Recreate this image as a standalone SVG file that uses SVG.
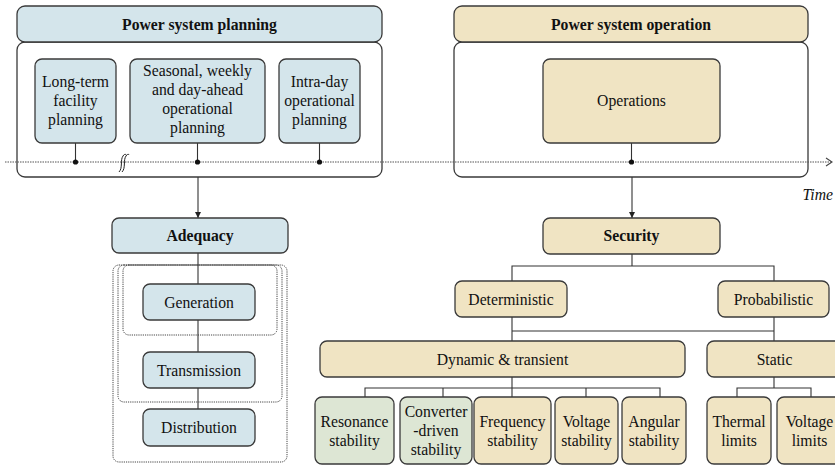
<svg xmlns="http://www.w3.org/2000/svg" width="835" height="466" viewBox="0 0 835 466" font-family="Liberation Serif, Times New Roman, serif">
<style>
text{font-family:Liberation Serif, serif;font-size:15.7px;fill:#111;text-anchor:middle}
.b{font-weight:bold}
.box{stroke:#3a3a3a;stroke-width:1.3}
.blue{fill:#d4e5eb}
.tan{fill:#f0e4c3}
.green{fill:#dde6d4}
.white{fill:#fff}
.ln{stroke:#333;stroke-width:1.1;fill:none}
.dash{fill:none;stroke:#444;stroke-width:1;stroke-dasharray:1.2 1}
</style>
<defs>
<marker id="ah" viewBox="0 0 8 8" refX="8" refY="4" markerWidth="6" markerHeight="6" orient="auto" markerUnits="userSpaceOnUse">
<path d="M0,0 L8,4 L0,8 z" fill="#222"/>
</marker>
</defs>
<rect width="835" height="466" fill="#fff"/>

<g id="planning">
<rect class="box white" x="17" y="42" width="365" height="135" rx="8"/>
<rect class="box blue" x="17" y="6" width="365" height="36" rx="8"/>
<text class="b" x="199.5" y="29.5" font-family="Liberation Serif">Power system planning</text>
</g>
<g id="operation">
<rect class="box white" x="454" y="42" width="354" height="135" rx="8"/>
<rect class="box tan" x="454" y="6" width="354" height="36" rx="8"/>
<text class="b" x="631" y="29.5" font-family="Liberation Serif">Power system operation</text>
</g>

<g id="dashed-groups">
<rect class="dash" x="113" y="265" width="174" height="197" rx="6"/>
<rect class="dash" x="118" y="265" width="164" height="137" rx="6"/>
<rect class="dash" x="123" y="265" width="154" height="70" rx="6"/>
</g>

<g id="connectors">
<line class="ln" x1="5" y1="162" x2="831" y2="162" style="stroke:#555;stroke-dasharray:1.5 1"/>
<path class="ln" d="M826,158 L832,162 L826,166" style="stroke:#444"/>
<path class="ln" d="M119,172 C123,168 120,160 123,156 C124,154 126,154 126,155 M122,172 C126,168 123,160 126,156 C127,154 129,154 129,155" style="stroke:#222;stroke-width:1"/>
<line class="ln" x1="75.5" y1="143" x2="75.5" y2="162"/>
<line class="ln" x1="197.5" y1="143" x2="197.5" y2="162"/>
<line class="ln" x1="319.5" y1="143" x2="319.5" y2="162"/>
<line class="ln" x1="631.5" y1="143" x2="631.5" y2="162"/>
<circle cx="75.5" cy="162" r="2.6" fill="#111"/>
<circle cx="197.5" cy="162" r="2.6" fill="#111"/>
<circle cx="319.5" cy="162" r="2.6" fill="#111"/>
<circle cx="631.5" cy="162" r="2.6" fill="#111"/>
<line class="ln" x1="198" y1="177" x2="198" y2="218" marker-end="url(#ah)"/>
<line class="ln" x1="632" y1="177" x2="632" y2="218" marker-end="url(#ah)"/>
<line class="ln" x1="198" y1="253" x2="198" y2="284"/>
<line class="ln" x1="198" y1="320" x2="198" y2="352"/>
<line class="ln" x1="198" y1="388" x2="198" y2="409"/>
<path class="ln" d="M632,254 V266 M512,281 V266 H774 V281"/>
<path class="ln" d="M512,317 V341 M512,331 H774 M774,317 V341"/>
<path class="ln" d="M512,377 V397 M365,397 V388 H660 V397 M443,388 V397 M586,388 V397"/>
<path class="ln" d="M774,377 V388 M737,397 V388 H811 V397"/>
</g>

<g id="n-longterm" font-family="Liberation Serif">
<rect class="box blue" x="35" y="59" width="81" height="84" rx="7"/>
<text x="75.5" y="87">Long-term</text>
<text x="75.5" y="106">facility</text>
<text x="75.5" y="125">planning</text>
</g>
<g id="n-seasonal" font-family="Liberation Serif">
<rect class="box blue" x="130" y="59" width="135" height="84" rx="7"/>
<text x="197.5" y="76">Seasonal, weekly</text>
<text x="197.5" y="95">and day-ahead</text>
<text x="197.5" y="114">operational</text>
<text x="197.5" y="133">planning</text>
</g>
<g id="n-intraday" font-family="Liberation Serif">
<rect class="box blue" x="279" y="59" width="81" height="84" rx="7"/>
<text x="319.5" y="87">Intra-day</text>
<text x="319.5" y="106">operational</text>
<text x="319.5" y="125">planning</text>
</g>
<g id="n-operations" font-family="Liberation Serif">
<rect class="box tan" x="543" y="59" width="177" height="84" rx="7"/>
<text x="631.5" y="106">Operations</text>
</g>
<text x="833" y="200" font-family="Liberation Serif" style="font-style:italic;text-anchor:end">Time</text>

<g id="n-adequacy" font-family="Liberation Serif">
<rect class="box blue" x="112" y="218" width="176" height="35" rx="7"/>
<text class="b" x="200" y="241">Adequacy</text>
</g>
<g id="n-generation" font-family="Liberation Serif">
<rect class="box blue" x="143" y="284" width="112" height="36" rx="7"/>
<text x="199" y="307.5">Generation</text>
</g>
<g id="n-transmission" font-family="Liberation Serif">
<rect class="box blue" x="143" y="352" width="112" height="36" rx="7"/>
<text x="199" y="375.5">Transmission</text>
</g>
<g id="n-distribution" font-family="Liberation Serif">
<rect class="box blue" x="143" y="409" width="112" height="37" rx="7"/>
<text x="199" y="433">Distribution</text>
</g>

<g id="n-security" font-family="Liberation Serif">
<rect class="box tan" x="543" y="218" width="177" height="36" rx="7"/>
<text class="b" x="631.5" y="241">Security</text>
</g>
<g id="n-deterministic" font-family="Liberation Serif">
<rect class="box tan" x="455" y="281" width="112" height="36" rx="7"/>
<text x="511" y="304.5">Deterministic</text>
</g>
<g id="n-probabilistic" font-family="Liberation Serif">
<rect class="box tan" x="718" y="281" width="111" height="36" rx="7"/>
<text x="773.5" y="304.5">Probabilistic</text>
</g>
<g id="n-dynamic" font-family="Liberation Serif">
<rect class="box tan" x="320" y="341" width="365" height="36" rx="7"/>
<text x="502.5" y="364.5">Dynamic &amp; transient</text>
</g>
<g id="n-static" font-family="Liberation Serif">
<rect class="box tan" x="707" y="341" width="135" height="36" rx="7"/>
<text x="774.5" y="364.5">Static</text>
</g>

<g id="n-resonance" font-family="Liberation Serif">
<rect class="box green" x="315" y="397" width="79" height="67" rx="7"/>
<text x="354.5" y="427">Resonance</text>
<text x="354.5" y="446">stability</text>
</g>
<g id="n-converter" font-family="Liberation Serif">
<rect class="box green" x="400" y="397" width="72" height="67" rx="7"/>
<text x="436" y="416.5">Converter</text>
<text x="436" y="436">-driven</text>
<text x="436" y="455">stability</text>
</g>
<g id="n-frequency" font-family="Liberation Serif">
<rect class="box tan" x="474" y="397" width="77" height="67" rx="7"/>
<text x="512.5" y="427">Frequency</text>
<text x="512.5" y="446">stability</text>
</g>
<g id="n-voltage" font-family="Liberation Serif">
<rect class="box tan" x="555" y="397" width="63" height="67" rx="7"/>
<text x="586.5" y="427">Voltage</text>
<text x="586.5" y="446">stability</text>
</g>
<g id="n-angular" font-family="Liberation Serif">
<rect class="box tan" x="622" y="397" width="64" height="67" rx="7"/>
<text x="654" y="427">Angular</text>
<text x="654" y="446">stability</text>
</g>
<g id="n-thermal" font-family="Liberation Serif">
<rect class="box tan" x="707" y="397" width="64" height="67" rx="7"/>
<text x="739" y="427">Thermal</text>
<text x="739" y="446">limits</text>
</g>
<g id="n-voltagelimits" font-family="Liberation Serif">
<rect class="box tan" x="777" y="397" width="65" height="67" rx="7"/>
<text x="809.5" y="427">Voltage</text>
<text x="809.5" y="446">limits</text>
</g>
</svg>
